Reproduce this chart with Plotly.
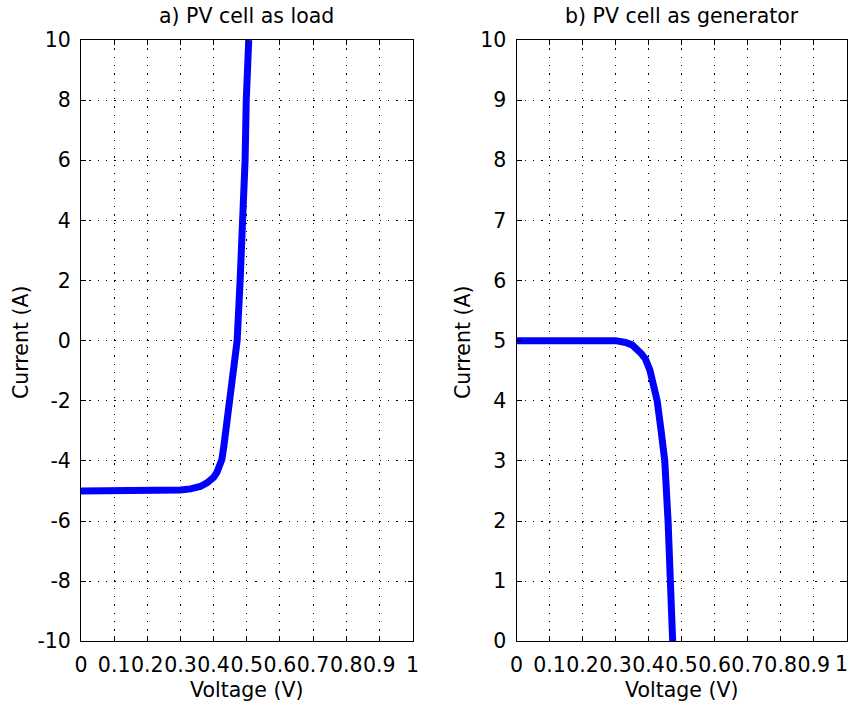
import plotly.graph_objects as go

# Left panel: PV cell as load
load_v = [0, 0.05, 0.1, 0.15, 0.2, 0.25, 0.3, 0.33, 0.36, 0.38, 0.40, 0.41, 0.418,
          0.425, 0.431, 0.437, 0.451, 0.462, 0.471, 0.480, 0.488, 0.495, 0.4985, 0.506]
load_i = [-5, -5, -5, -5, -5, -5, -4.97, -4.93, -4.85, -4.73, -4.55, -4.38, -4.2,
          -3.95, -3.5, -3.0, -2.0, -1.0, 0, 2, 4, 6, 8, 10]

# Right panel: PV cell as generator
gen_v = [0, 0.1, 0.2, 0.3, 0.33, 0.35, 0.377, 0.39, 0.404, 0.415, 0.426, 0.438,
         0.449, 0.459, 0.467, 0.473]
gen_i = [5, 5, 5, 5, 4.97, 4.93, 4.79, 4.7, 4.51, 4.3, 4.0, 3.5, 3.0, 2.0, 1.0, 0]

# Tick values / labels
x_ticks = [0, 0.1, 0.2, 0.3, 0.4, 0.5, 0.6, 0.7, 0.8, 0.9, 1]
x_ticktext = ["0", "0.1", "0.2", "0.3", "0.4", "0.5", "0.6", "0.7", "0.8", "0.9", "1"]
y1_ticks = [-10, -8, -6, -4, -2, 0, 2, 4, 6, 8, 10]
y1_ticktext = ["-10", "-8", "-6", "-4", "-2", "0", "2", "4", "6", "8", "10"]
y2_ticks = [0, 1, 2, 3, 4, 5, 6, 7, 8, 9, 10]
y2_ticktext = ["0", "1", "2", "3", "4", "5", "6", "7", "8", "9", "10"]

titles = ["a) PV cell as load", "b) PV cell as generator"]
xlabel = "Voltage (V)"
ylabel = "Current (A)"

W, H = 850, 707
FONT = dict(family="DejaVu Sans", size=20.5, color="black")

fig = go.Figure()
fig.add_trace(go.Scatter(x=load_v, y=load_i, mode="lines",
                         line=dict(color="#0000ff", width=7), xaxis="x", yaxis="y",
                         showlegend=False))
fig.add_trace(go.Scatter(x=gen_v, y=gen_i, mode="lines",
                         line=dict(color="#0000ff", width=7), xaxis="x2", yaxis="y2",
                         showlegend=False))

px = lambda v: v / W
py = lambda v: 1 - v / H

dom_l = [px(81), px(412.5)]
dom_r = [px(516.5), px(846.7)]
dom_y = [py(641.3), py(40)]

common_ax = dict(showline=True, linecolor="black", linewidth=1, mirror="ticks",
                 ticks="inside", ticklen=5, tickcolor="black", tickwidth=1,
                 showgrid=True, gridcolor="black", griddash="1.3px,7px", gridwidth=1.3,
                 zeroline=False, tickfont=FONT, fixedrange=True, automargin=False,
                 tickmode="array", ticklabeloverflow="allow")

# last label of right x-axis sits at the page edge; drawn as annotation so it stays inside
x2_ticktext = x_ticktext[:-1] + [""]

fig.update_layout(
    template="none",
    width=W, height=H,
    margin=dict(l=0, r=0, t=0, b=0, pad=0),
    paper_bgcolor="white", plot_bgcolor="white",
    font=FONT, showlegend=False,
    xaxis=dict(domain=dom_l, range=[0, 1], tickvals=x_ticks, ticktext=x_ticktext,
               anchor="y", tickangle=0, ticklabelstandoff=5, **common_ax),
    yaxis=dict(domain=dom_y, range=[-10, 10], tickvals=y1_ticks, ticktext=y1_ticktext,
               anchor="x", ticklabelstandoff=5, **common_ax),
    xaxis2=dict(domain=dom_r, range=[0, 1], tickvals=x_ticks, ticktext=x2_ticktext,
                anchor="y2", tickangle=0, ticklabelstandoff=5, **common_ax),
    yaxis2=dict(domain=dom_y, range=[0, 10], tickvals=y2_ticks, ticktext=y2_ticktext,
                anchor="x2", ticklabelstandoff=5, **common_ax),
)

ann = []
for dom, t in zip([dom_l, dom_r], titles):
    cx = (dom[0] + dom[1]) / 2
    ann.append(dict(text=t, x=cx, y=py(16), xref="paper", yref="paper",
                    showarrow=False, font=FONT, xanchor="center", yanchor="middle"))
    ann.append(dict(text=xlabel, x=cx, y=py(690), xref="paper", yref="paper",
                    showarrow=False, font=FONT, xanchor="center", yanchor="middle"))
for xpos in [21, 463]:
    ann.append(dict(text=ylabel, x=px(xpos), y=py(342), xref="paper", yref="paper",
                    showarrow=False, font=FONT, textangle=-90,
                    xanchor="center", yanchor="middle"))
ann.append(dict(text=x_ticktext[-1], x=px(849), y=py(664), xref="paper", yref="paper",
                showarrow=False, font=FONT, xanchor="right", yanchor="middle",
                borderpad=0))
fig.update_layout(annotations=ann)

fig.write_html("out.html")
